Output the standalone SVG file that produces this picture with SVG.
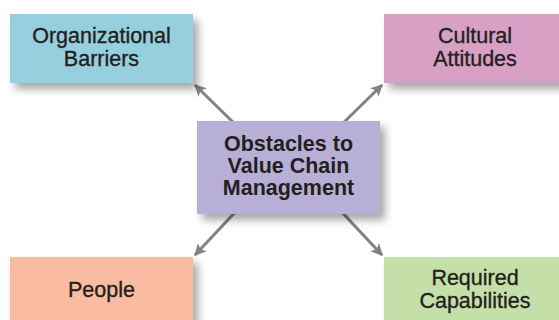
<svg xmlns="http://www.w3.org/2000/svg" width="559" height="320" viewBox="0 0 559 320">
<defs>
<filter id="sh" x="-20%" y="-20%" width="150%" height="160%">
<feDropShadow dx="5" dy="6" stdDeviation="4" flood-color="#000" flood-opacity="0.35"/>
</filter>
<marker id="ah" viewBox="0 0 10 10" refX="9" refY="5" markerWidth="4.2" markerHeight="4" orient="auto" markerUnits="strokeWidth">
<path d="M0,0 L10,5 L0,10 L2.5,5 Z" fill="#808283"/>
</marker>
<style>
.box{filter:url(#sh);}
.t{font-family:"Liberation Sans",Arial,sans-serif;font-size:21.5px;fill:#231f20;text-anchor:middle;stroke:#231f20;stroke-width:0.35;}
.b{font-weight:bold;font-size:21.5px;stroke-width:0;}
.c{stroke:#808283;stroke-width:3;fill:none;marker-end:url(#ah);}
</style>
</defs>
<rect width="559" height="320" fill="#fff"/>
<g id="connectors">
<line class="c" x1="240" y1="129" x2="195" y2="85"/>
<line class="c" x1="337" y1="129" x2="382" y2="85"/>
<line class="c" x1="240" y1="207" x2="195" y2="255"/>
<line class="c" x1="337" y1="207" x2="382" y2="255"/>
</g>
<g id="organizational-barriers">
<rect class="box" x="10" y="14" width="183" height="69" fill="#96d0df"/>
<text class="t" x="101.5" y="43">Organizational</text>
<text class="t" x="101.5" y="66">Barriers</text>
</g>
<g id="cultural-attitudes">
<rect class="box" x="384" y="14" width="183" height="69" fill="#d8a0c4"/>
<text class="t" x="475" y="43">Cultural</text>
<text class="t" x="475" y="66">Attitudes</text>
</g>
<g id="obstacles">
<rect class="box" x="197" y="121" width="183" height="93" fill="#b8afd6"/>
<text class="t b" x="288.5" y="151">Obstacles to</text>
<text class="t b" x="288.5" y="173">Value Chain</text>
<text class="t b" x="288.5" y="195">Management</text>
</g>
<g id="people">
<rect class="box" x="10" y="257" width="183" height="69" fill="#f9bba1"/>
<text class="t" x="101.5" y="297">People</text>
</g>
<g id="required-capabilities">
<rect class="box" x="384" y="257" width="183" height="69" fill="#c5dfa9"/>
<text class="t" x="475" y="285">Required</text>
<text class="t" x="475" y="308">Capabilities</text>
</g>
</svg>
